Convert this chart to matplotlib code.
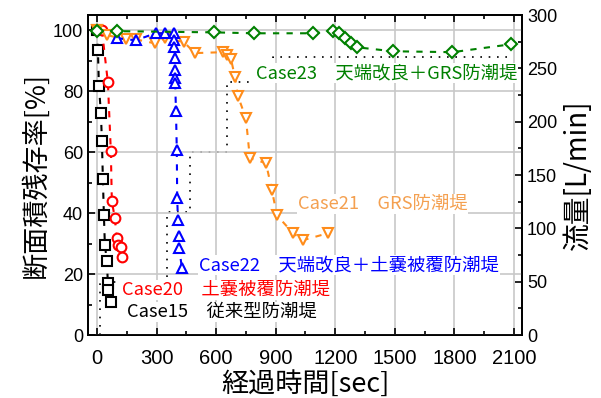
import matplotlib
matplotlib.use("Agg")
import matplotlib.pyplot as plt
from matplotlib.ticker import MultipleLocator

plt.rcParams['font.family'] = ['Liberation Sans', 'Noto Sans CJK JP', 'DejaVu Sans']
JP = ['Noto Sans CJK JP', 'DejaVu Sans']

# ── data ────────────────────────────────────────────────────
# Case15 従来型防潮堤
t15 = [0, 5, 10, 20, 25, 30, 35, 40, 50, 55, 57, 70]
v15 = [100, 93.4, 81.6, 72.8, 63.6, 51.1, 39.3, 29.5, 24.3, 17.0, 14.8, 10.8]

# Case20 土嚢被覆防潮堤
t20 = [25, 55, 70, 75, 90, 100, 105, 120, 125]
v20 = [100, 83.0, 60.3, 43.9, 38.4, 31.8, 29.5, 28.9, 25.6]

# Case21 GRS防潮堤
t21 = [0, 50, 146, 196, 292, 342, 438, 493, 634, 655, 675, 695, 710, 750,
       770, 851, 881, 906, 987, 1037, 1163]
v21 = [100, 98.4, 97.0, 97.0, 95.7, 97.4, 96.1, 92.5, 92.8, 91.8, 90.5, 84.6,
       78.4, 71.1, 58.0, 56.4, 47.5, 39.3, 33.4, 31.1, 33.4]

# Case22 天端改良＋土嚢被覆防潮堤
t22 = [100, 195, 295, 345, 388, 389, 390, 391, 392, 393, 394, 398, 402, 404,
       408, 412, 414, 428]
v22 = [97.4, 96.7, 99.0, 99.0, 99.0, 96.7, 94.4, 90.8, 86.9, 84.3, 82.6, 73.4,
       60.7, 44.9, 37.7, 32.5, 28.5, 21.9]

# Case23 天端改良＋GRS防潮堤
t23 = [0, 100, 590, 790, 1090, 1190, 1220, 1250, 1280, 1310, 1490, 1790, 2085]
v23 = [99.7, 99.7, 99.3, 99.0, 99.0, 99.7, 99.0, 97.4, 95.7, 94.4, 93.1, 92.8, 95.4]

# flow rate steps (right axis)
t_flow = [14, 14, 352, 468, 655, 886, 2090]
q_flow = [0, 49.7, 115, 171.6, 237, 260.6, 260.6]

fig = plt.figure(figsize=(6.01, 3.98), dpi=100)
ax = fig.add_axes([88 / 601, 1 - 335 / 398, (522 - 88) / 601, (335 - 15) / 398])
ax2 = ax.twinx()
ax.set_zorder(ax2.get_zorder() + 1)
ax.patch.set_visible(False)

ax2.plot(t_flow, q_flow, drawstyle='steps-post', color='black',
         linestyle=(0, (1, 4)), linewidth=1.2)

dash = (0, (3, 3.5))
series = [
    (t15, v15, 's', 'black'),
    (t20, v20, 'o', '#FF0000'),
    (t21, v21, 'v', '#FF8C1A'),
    (t22, v22, '^', '#0000FF'),
    (t23, v23, 'D', '#008000'),
]
for t, v, m, c in series:
    ax.plot(t, v, linestyle=dash, color=c, linewidth=1.5, marker=m,
            markersize=7 if m != 'D' else 6.5, markerfacecolor='white',
            markeredgecolor=c, markeredgewidth=1.5)

ax.set_xlim(-45, 2140)
ax.set_ylim(0, 105)
ax2.set_ylim(0, 300)

ax.xaxis.set_major_locator(MultipleLocator(300))
ax.xaxis.set_minor_locator(MultipleLocator(150))
ax.yaxis.set_major_locator(MultipleLocator(20))
ax.yaxis.set_minor_locator(MultipleLocator(10))
ax2.yaxis.set_major_locator(MultipleLocator(50))
ax2.yaxis.set_minor_locator(MultipleLocator(25))

ax.grid(True, which='major', color='#C8C8C8', linewidth=1.2)
ax.set_axisbelow(True)

for a in (ax, ax2):
    for s in a.spines.values():
        s.set_linewidth(1.3)
ax.tick_params(which='both', direction='in', top=True, labelsize=13, width=1.2)
ax.tick_params(which='major', length=5)
ax.tick_params(which='minor', length=3)
ax.tick_params(axis='x', pad=10)
ax2.tick_params(which='both', direction='in', labelsize=13, width=1.2)
ax2.tick_params(which='major', length=5)
ax2.tick_params(which='minor', length=3)
for lab in ax.get_xticklabels():
    lab.set_fontfamily(['Liberation Sans Narrow', 'Liberation Sans'])
    lab.set_fontsize(14.5)

ax.set_xlabel('経過時間[sec]', family=JP, fontsize=19.5, labelpad=2)
ax.set_ylabel('断面積残存率[%]', family=JP, fontsize=19.5, labelpad=2)
ax2.set_ylabel('流量[L/min]', family=JP, fontsize=20, labelpad=4)

box = dict(facecolor='white', edgecolor='none', pad=0.5)
labels = [
    (800, 73, 'Case23\u3000天端改良＋GRS防潮堤', '#008000'),
    (1010, 204, 'Case21\u3000GRS防潮堤', '#F4A050'),
    (515, 265, 'Case22\u3000天端改良＋土嚢被覆防潮堤', '#0000FF'),
    (125, 290, 'Case20\u3000土嚢被覆防潮堤', '#FF0000'),
    (150, 312, 'Case15\u3000従来型防潮堤', 'black'),
]
for x, ypx, s, c in labels:
    y = (335 - ypx) / 3.05
    ax.text(x, y, s, color=c, family=JP, fontsize=13.2, va='center', ha='left',
            bbox=box, zorder=6)

fig.savefig('out.png', dpi=100)
